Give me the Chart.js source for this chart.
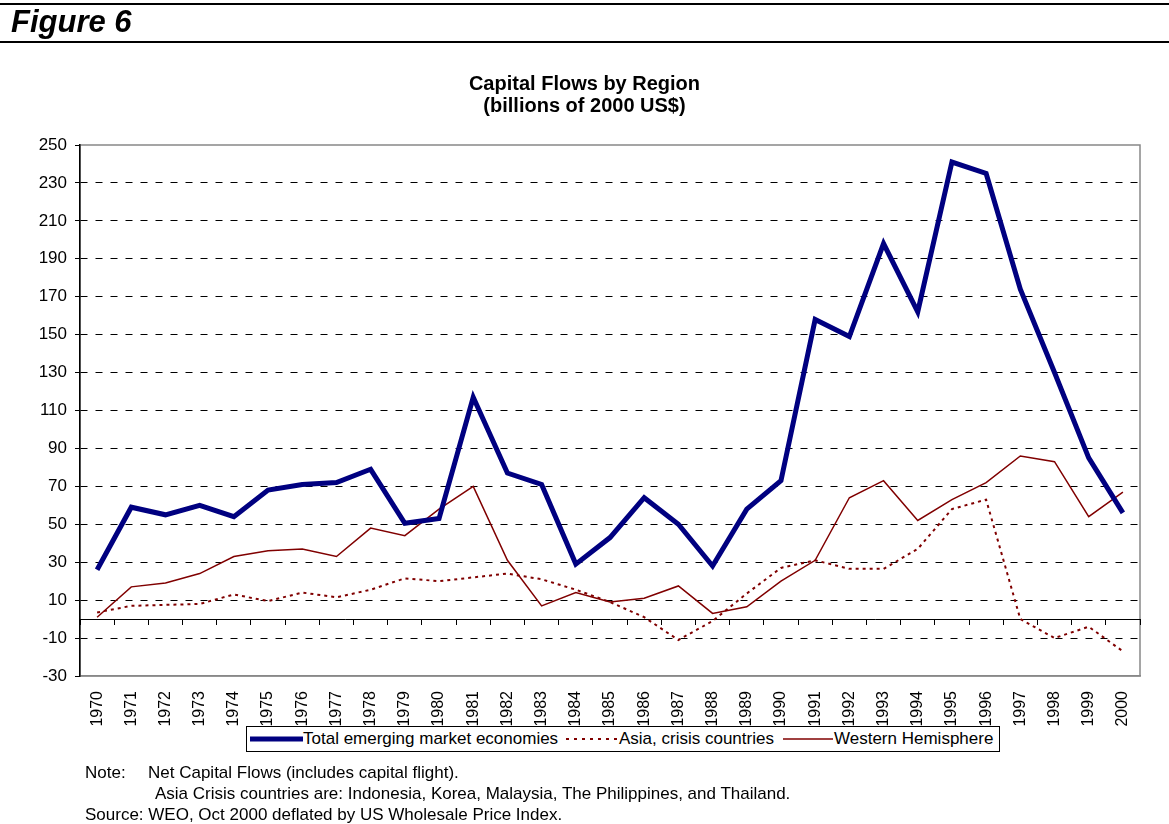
<!DOCTYPE html>
<html>
<head>
<meta charset="utf-8">
<script src="https://cdn.jsdelivr.net/npm/chart.js@4.4.0/dist/chart.umd.min.js"></script>
<style>
html,body{margin:0;padding:0;background:#fff;}
body{width:1169px;height:824px;position:relative;overflow:hidden;font-family:"Liberation Sans",Arial,sans-serif;color:#000;}
#c{position:absolute;left:0;top:0;}
.hline{position:absolute;left:0;width:1169px;height:2px;background:#000;}
#fig{position:absolute;left:11px;top:6px;font-size:31px;font-weight:bold;font-style:italic;line-height:32px;white-space:nowrap;}
#title{position:absolute;left:0;width:1169px;top:72px;text-align:center;font-size:20px;font-weight:bold;line-height:22px;}
#legend{position:absolute;left:246px;top:726px;width:754px;height:26px;border:1px solid #000;box-sizing:border-box;background:#fff;}
#legend .s{position:absolute;top:6px;}
#legend .t{position:absolute;top:2px;font-size:17px;line-height:20px;white-space:nowrap;}
.note{position:absolute;font-size:17px;line-height:20px;white-space:nowrap;}
</style>
</head>
<body>
<canvas id="c" width="1169" height="824"></canvas>
<div class="hline" style="top:3px"></div>
<div id="fig">Figure 6</div>
<div class="hline" style="top:41px"></div>
<div id="title">Capital Flows by Region<br>(billions of 2000 US$)</div>

<div id="legend">
  <svg class="s" style="left:3px" width="53" height="12"><line x1="0" y1="6" x2="53" y2="6" stroke="#000080" stroke-width="5"/></svg>
  <div class="t" style="left:56px">Total emerging market economies</div>
  <svg class="s" style="left:319px" width="52" height="12"><line x1="0" y1="6" x2="52" y2="6" stroke="#800000" stroke-width="2" stroke-dasharray="3,5"/></svg>
  <div class="t" style="left:372px">Asia, crisis countries</div>
  <svg class="s" style="left:536px" width="50" height="12"><line x1="0" y1="6" x2="50" y2="6" stroke="#800000" stroke-width="1.5"/></svg>
  <div class="t" style="left:587px">Western Hemisphere</div>
</div>

<div class="note" style="left:85px;top:763px">Note:</div>
<div class="note" style="left:148px;top:763px">Net Capital Flows (includes capital flight).</div>
<div class="note" style="left:155px;top:784px">Asia Crisis countries are: Indonesia, Korea, Malaysia, The Philippines, and Thailand.</div>
<div class="note" style="left:85px;top:805px">Source: WEO, Oct 2000 deflated by US Wholesale Price Index.</div>

<script>
// ---- data (billions of 2000 US$) ----
const years = ['1970','1971','1972','1973','1974','1975','1976','1977','1978','1979',
               '1980','1981','1982','1983','1984','1985','1986','1987','1988','1989',
               '1990','1991','1992','1993','1994','1995','1996','1997','1998','1999','2000'];
const totalEmerging = [26,59,55,60,54,68,71,72,79,50.5,
                       53,117,77,71,29,43,64,50,28,58,
                       73,158,149,198,162,241,235,174,130,85,56];
const asiaCrisis = [3.5,7,7.5,8,13,9.5,14,11.5,15.5,21.5,
                    20,22,24,21,15.5,9,1,-11,-1,13.5,
                    27,31,26.5,26.5,37,58,63,0,-10,-4,-17];
const westernHemisphere = [1,17,19,24,33,36,37,33,48,44,
                           58,70,31,7,14,9,11,17.5,3,6.5,
                           20,31,64,73,52,63,72,86,83,54,67];
const yMin = -30, yMax = 250, yStep = 20;

Chart.defaults.font.family = "'Liberation Sans', Arial, sans-serif";
Chart.defaults.color = '#000';

const plotFrame = {
  id: 'plotFrame',
  beforeDraw(chart) {
    const {ctx, chartArea: a} = chart;
    ctx.save();
    ctx.fillStyle = '#fff';
    ctx.fillRect(0, 0, chart.width, chart.height);
    ctx.strokeStyle = '#888';
    ctx.lineWidth = 1.5;
    ctx.strokeRect(a.left, a.top, a.right - a.left, a.bottom - a.top);
    ctx.restore();
  }
};

new Chart(document.getElementById('c'), {
  type: 'line',
  data: {
    labels: years,
    datasets: [
      {label: 'Total emerging market economies', data: totalEmerging, xAxisID: 'x',
       borderColor: '#000080', backgroundColor: '#000080', borderWidth: 5,
       pointRadius: 0, tension: 0, borderJoinStyle: 'miter', order: 1},
      {label: 'Asia, crisis countries', data: asiaCrisis, xAxisID: 'x',
       borderColor: '#800000', backgroundColor: '#800000', borderWidth: 2, borderDash: [3,4],
       pointRadius: 0, tension: 0, order: 3},
      {label: 'Western Hemisphere', data: westernHemisphere, xAxisID: 'x',
       borderColor: '#800000', backgroundColor: '#800000', borderWidth: 1.5,
       pointRadius: 0, tension: 0, order: 2}
    ]
  },
  options: {
    responsive: false,
    animation: false,
    devicePixelRatio: 1,
    layout: {padding: {left: 0, right: 29, top: 145, bottom: 88}},
    plugins: {
      legend: {display: false},
      tooltip: {enabled: false},
      title: {display: false}
    },
    scales: {
      x: {
        type: 'category',
        position: 'bottom',
        offset: true,
        grid: {display: false, drawTicks: false},
        border: {display: true, color: '#888', width: 1.5},
        ticks: {autoSkip: false, minRotation: 90, maxRotation: 90, padding: 15,
                font: {size: 16}, color: '#000'},
        afterFit(s) { s.height = 60; }
      },
      x2: {
        type: 'category',
        position: {y: 0},
        offset: true,
        grid: {display: true, offset: true, drawOnChartArea: false, drawTicks: true,
               tickLength: 5, tickColor: '#000', tickWidth: 1},
        border: {display: true, color: '#000', width: 1},
        ticks: {display: false}
      },
      y: {
        type: 'linear',
        position: 'left',
        min: yMin, max: yMax,
        ticks: {stepSize: yStep, padding: 8, font: {size: 17}, color: '#000'},
        grid: {
          color: (c) => (c.tick && (c.tick.value === yMin || c.tick.value === yMax)) ? 'rgba(0,0,0,0)' : '#000',
          lineWidth: 1, tickLength: 5, tickColor: '#000', tickWidth: 1
        },
        border: {display: true, color: '#000', width: 1.5, dash: [7, 8]},
        afterFit(s) { s.width = 80; }
      }
    }
  },
  plugins: [plotFrame]
});
</script>
</body>
</html>
